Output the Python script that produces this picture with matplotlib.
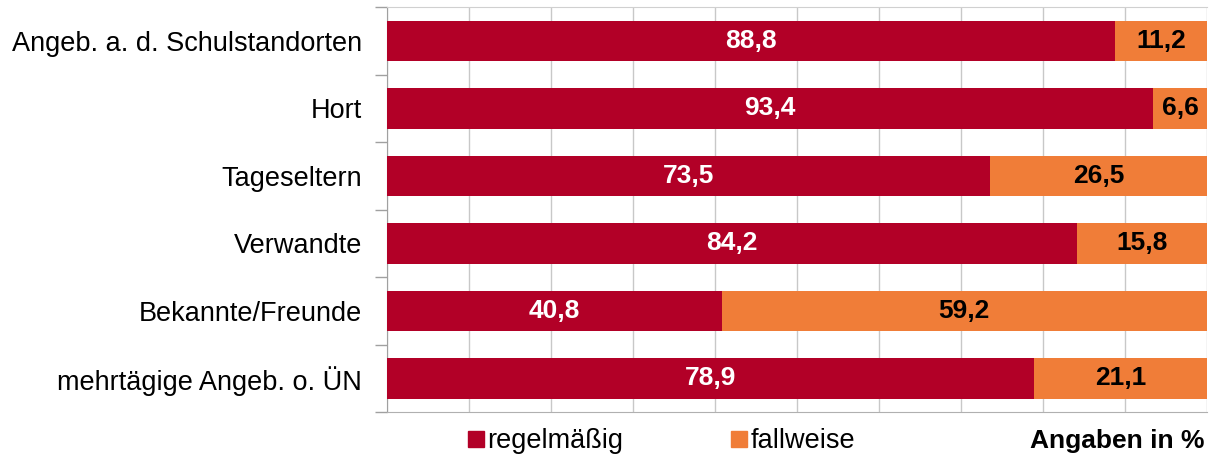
import matplotlib
matplotlib.use('Agg')
import matplotlib.pyplot as plt
from matplotlib.lines import Line2D
import numpy as np

plt.rcParams['font.family'] = ['Liberation Sans', 'DejaVu Sans']

categories = ['Angeb. a. d. Schulstandorten', 'Hort', 'Tageseltern', 'Verwandte',
              'Bekannte/Freunde', 'mehrtägige Angeb. o. ÜN']
regelmaessig = [88.8, 93.4, 73.5, 84.2, 40.8, 78.9]
fallweise = [11.2, 6.6, 26.5, 15.8, 59.2, 21.1]
series_names = ['regelmäßig', 'fallweise']

red = '#b20027'
orange = '#f07d38'

W, H = 1212, 454
fig = plt.figure(figsize=(W / 100, H / 100), dpi=100)
ax = fig.add_axes([387 / W, (H - 412) / H, 820 / W, 405 / H])

y = np.arange(len(categories))
ax.barh(y, regelmaessig, height=0.6, color=red, zorder=3)
ax.barh(y, fallweise, left=regelmaessig, height=0.6, color=orange, zorder=3)

for i in range(len(categories)):
    r, f = regelmaessig[i], fallweise[i]
    ax.text(r / 2, i, ('%.1f' % r).replace('.', ','), ha='center', va='center',
            color='white', fontsize=19, fontweight='bold', zorder=4)
    ax.text(r + f / 2, i, ('%.1f' % f).replace('.', ','), ha='center', va='center',
            color='black', fontsize=19, fontweight='bold', zorder=4)

ax.set_xlim(0, 100)
ax.set_ylim(len(categories) - 0.5, -0.5)
ax.set_xticks(np.arange(0, 101, 10))
ax.tick_params(axis='x', length=0, labelbottom=False)
ax.grid(axis='x', color='#c8c8c8', linewidth=1, zorder=0)

ax.set_yticks(np.arange(-0.5, len(categories), 1))
ax.set_yticklabels([])
ax.tick_params(axis='y', which='major', length=9, color='#a0a0a0', width=1)
ax.set_yticks(y, minor=True)
ax.set_yticklabels(categories, minor=True, fontsize=19.5)
ax.tick_params(axis='y', which='minor', length=0, pad=18)

ax.spines['right'].set_visible(False)
ax.spines['top'].set_color('#d0d0d0')
ax.spines['bottom'].set_color('#b0b0b0')
ax.spines['left'].set_color('#a0a0a0')

handles = [Line2D([], [], marker='s', linestyle='none', markersize=11, color=red),
           Line2D([], [], marker='s', linestyle='none', markersize=11, color=orange)]
fig.legend(handles, series_names, loc='center', bbox_to_anchor=(660 / W, 1 - 441.5 / H),
           ncol=2, frameon=False, fontsize=19.5, handletextpad=0.0, columnspacing=3.9,
           handlelength=0.8, borderpad=0)

fig.text(1205 / W, 1 - 441 / H, 'Angaben in %', ha='right', va='center',
         fontsize=19, fontweight='bold')

fig.savefig('out.png', dpi=100)
